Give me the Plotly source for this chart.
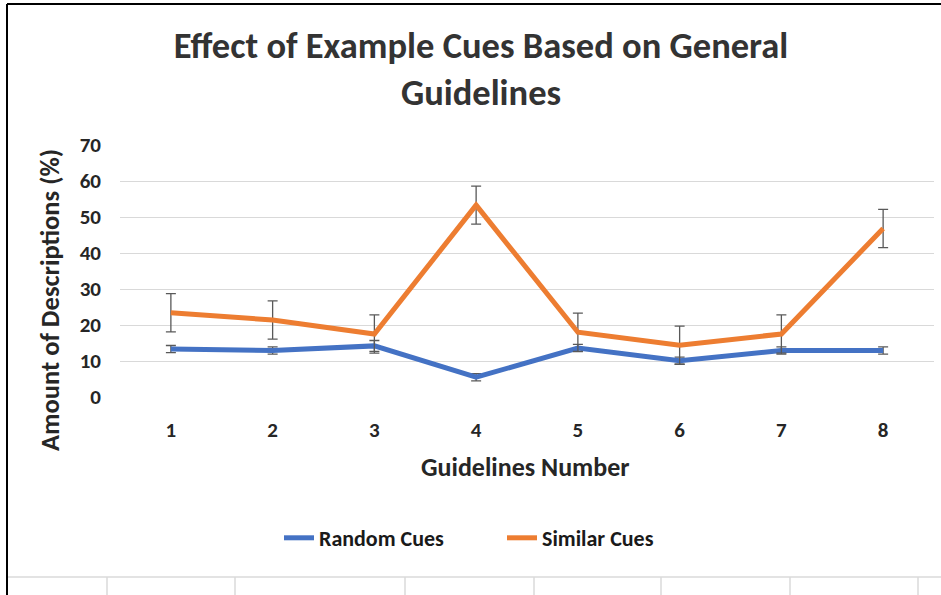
import plotly.graph_objects as go

# data
guidelines = [1, 2, 3, 4, 5, 6, 7, 8]
random_cues = [13.3, 12.9, 14.2, 5.5, 13.6, 10.1, 12.9, 12.9]
random_err = [1.0, 1.0, 1.5, 1.0, 1.0, 1.0, 1.0, 1.0]
similar_cues = [23.4, 21.4, 17.5, 53.3, 18.0, 14.4, 17.5, 46.8]
similar_err = [5.3, 5.3, 5.3, 5.3, 5.3, 5.3, 5.3, 5.3]

W, H = 941, 595
L, R, T, B = 120, 7, 145, 198
FONT = "Carlito, 'Liberation Sans Narrow', Lato, sans-serif"
TXT = "#262626"


def px_x(p):
    return (p - L) / (W - L - R)


def px_y(p):
    return (H - B - p) / (H - T - B)


fig = go.Figure()
fig.add_trace(go.Scatter(
    x=guidelines, y=random_cues, mode="lines", name="<b>Random Cues</b>",
    line=dict(color="#4472C4", width=5),
    error_y=dict(type="data", array=random_err, color="#595959", thickness=1.3, width=5),
))
fig.add_trace(go.Scatter(
    x=guidelines, y=similar_cues, mode="lines", name="<b>Similar Cues</b>",
    line=dict(color="#ED7D31", width=5),
    error_y=dict(type="data", array=similar_err, color="#595959", thickness=1.3, width=5),
))

# frame and spreadsheet cell lines around the chart
shapes = [
    dict(type="line", xref="paper", yref="paper", x0=px_x(7), x1=px_x(7), y0=px_y(4), y1=px_y(600),
         line=dict(color="black", width=2)),
    dict(type="line", xref="paper", yref="paper", x0=px_x(7), x1=px_x(945), y0=px_y(4), y1=px_y(4),
         line=dict(color="black", width=2)),
    dict(type="line", xref="paper", yref="paper", x0=px_x(8), x1=px_x(945), y0=px_y(577), y1=px_y(577),
         line=dict(color="#DADADA", width=1.5)),
]
for cx in [107, 235, 405, 534, 661, 790, 918]:
    shapes.append(dict(type="line", xref="paper", yref="paper", x0=px_x(cx), x1=px_x(cx),
                       y0=px_y(577), y1=px_y(600), line=dict(color="#DADADA", width=1.5)))

fig.update_layout(
    width=W, height=H,
    margin=dict(l=L, r=R, t=T, b=B),
    paper_bgcolor="white", plot_bgcolor="white",
    font=dict(family=FONT, color=TXT, size=21),
    title=dict(
        text="<b>Effect of Example Cues Based on General<br>Guidelines</b>",
        x=481 / W, xanchor="center", y=1 - 58 / H, yanchor="middle",
        font=dict(size=36.5, color="#333333"),
    ),
    xaxis=dict(
        range=[0.5, 8.5], tickvals=guidelines, ticktext=[f"<b>{g}</b>" for g in guidelines],
        showgrid=False, zeroline=False, showline=False, ticks="",
        ticklabelstandoff=18,
        tickfont=dict(size=21, color=TXT),
    ),
    yaxis=dict(
        range=[0, 70], dtick=10, tickformat="d",
        showgrid=True, gridcolor="#D9D9D9", gridwidth=1.3,
        zeroline=False, showline=False, ticks="",
        ticklabelstandoff=18,
        tickprefix="<b>", ticksuffix="</b>",
        tickfont=dict(size=21, color=TXT),
    ),
    showlegend=True,
    legend=dict(
        orientation="h", x=502 / W, xref="container", xanchor="center",
        y=1 - 538 / H, yref="container", yanchor="middle",
        font=dict(size=22, color="#1a1a1a"), entrywidth=178,
    ),
    shapes=shapes,
    annotations=[
        dict(text="<b>Guidelines Number</b>", xref="paper", yref="paper",
             x=px_x(525), y=px_y(467), xanchor="center", yanchor="middle",
             showarrow=False, font=dict(size=26, color=TXT)),
        dict(text="<b>Amount of Descriptions (%)</b>", xref="paper", yref="paper",
             x=px_x(50), y=px_y(300), xanchor="center", yanchor="middle",
             textangle=-90, showarrow=False, font=dict(size=26.5, color=TXT)),
    ],
)

# the page's default body margin would push the figure 8px off
fig.write_html("out.html", config={"displayModeBar": False},
               post_script="document.body.style.margin='0px';")
